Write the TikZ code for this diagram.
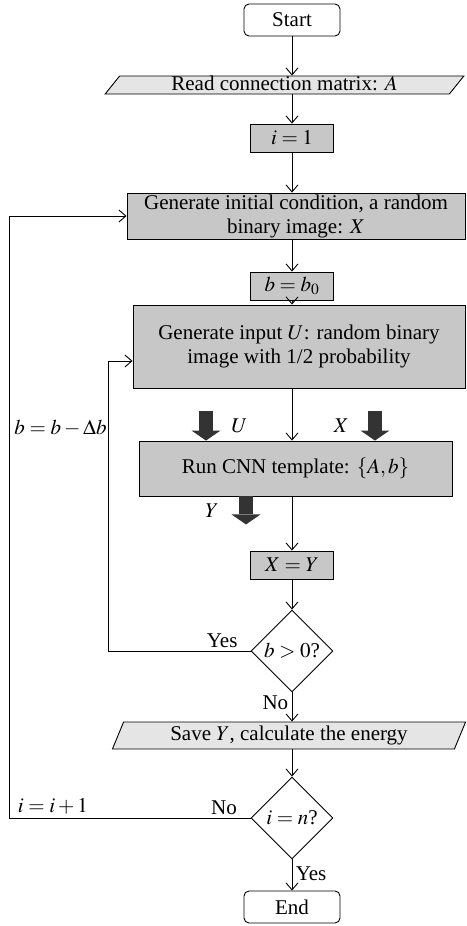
\documentclass[tikz,border=0pt]{standalone}
\usepackage{mathptmx}
\usepackage[no-math]{fontspec}
\setmainfont{Liberation Serif}
\usetikzlibrary{positioning,shapes.geometric,arrows.meta}
\definecolor{boxgray}{gray}{0.78}
\definecolor{iogray}{gray}{0.9}
\definecolor{arrowgray}{gray}{0.2}

\begin{document}
\begin{tikzpicture}[-{Straight Barb[length=7pt,width=12pt]}, on grid,
line width=0.9pt, font=\fontsize{21}{24}\selectfont,
term/.style={draw, rounded corners=5pt, minimum width=96pt,
minimum height=32pt, inner sep=0pt},
proc/.style={draw, fill=boxgray, minimum width=83pt, minimum height=28pt,
inner sep=1pt, align=center},
io/.style={draw, fill=iogray, trapezium, trapezium stretches=true,
trapezium left angle=61, trapezium right angle=119, inner xsep=0pt,
inner ysep=0pt, text height=14pt, text depth=4pt, minimum height=18pt},
decision/.style={draw, diamond, aspect=1, minimum width=82pt,
minimum height=82pt, inner sep=0pt},
bigarrow/.style={draw=arrowgray, line width=14pt,
-{Triangle[length=10pt,width=29pt,line width=0pt]}}]
\useasboundingbox (0,0) rectangle (466pt,-926pt);

\node[term] (start) at (292pt,-20pt) {Start};
\node[io, minimum width=359pt] (read) [below=65pt of start, xshift=-7.5pt] {Read connection matrix: $A$};
\node[proc] (init) [below=53pt of read, xshift=7.5pt] {$i=1$};
\node[proc, minimum width=338pt, minimum height=46pt] (genx) [below=78pt of init, xshift=4pt]
{Generate initial condition, a random\\ binary image: $X$};
\node[proc] (bzero) [below=70pt of genx, xshift=-4pt] {$b=b_0$};
\node[proc, minimum width=332pt, minimum height=83pt] (genu) [below=60.5pt of bzero, xshift=7pt]
{Generate input $U$: random binary\\ image with 1/2 probability};
\node[proc, minimum width=313pt, minimum height=55pt] (cnn) [below=122pt of genu, xshift=-3.5pt]
{Run CNN template: $\{A,b\}$};
\node[proc] (xy) [below=96.5pt of cnn, xshift=-3.5pt] {$X=Y$};
\node[decision] (bpos) [below=86pt of xy] {$b>0$?};
\node[io, minimum width=354pt, minimum height=27pt, trapezium left angle=66,
trapezium right angle=114] (save) [below=84.5pt of bpos, xshift=-3pt]
{Save $Y$, calculate the energy};
\node[decision] (iend) [below=82.5pt of save, xshift=3pt] {$i=n$?};
\node[term] (end) [below=89pt of iend] {End};

% main line
\draw (start) -- (start |- read.north);
\draw (init |- read.south) -- (init);
\draw (init) -- (init |- genx.north);
\draw (bzero |- genx.south) -- (bzero);
\draw (bzero) -- (bzero |- genu.north);
\draw (xy |- genu.south) -- (xy |- cnn.north);
\draw (xy |- cnn.south) -- (xy);
\draw (xy) -- (bpos);
\draw (bpos) -- node[left,pos=0.35] {No} (bpos |- save.north);
\draw (iend |- save.south) -- (iend);
\draw (iend) -- node[right,pos=0.45] {Yes} (end);

% loops
\coordinate (bloop) at ([xshift=-142pt]bpos.west);
\coordinate (uin) at ([yshift=-14.5pt]genu.west);
\draw (bpos.west) -- node[above,pos=0.2] {Yes} (bloop)
  |- node[left,pos=0.385,inner sep=1.5pt] {$b=b-\Delta b$} (uin);
\coordinate (iloop) at ([xshift=-241pt]iend.west);
\draw (iend.west) -- node[above,pos=0.11] {No} node[above,pos=0.82] {$i=i+1$} (iloop)
  |- (genx.west);

% data arrows
\draw[bigarrow] ([xshift=-89.5pt,yshift=30pt]cnn.north) -- node[right=15pt] {$U$}
  ([xshift=-89.5pt]cnn.north);
\draw[bigarrow] ([xshift=79.5pt,yshift=30pt]cnn.north) -- node[left=16pt] {$X$}
  ([xshift=79.5pt]cnn.north);
\draw[bigarrow] ([xshift=-49.5pt]cnn.south) -- node[left=17pt] {$Y$}
  ([xshift=-49.5pt,yshift=-28pt]cnn.south);
\end{tikzpicture}
\end{document}
